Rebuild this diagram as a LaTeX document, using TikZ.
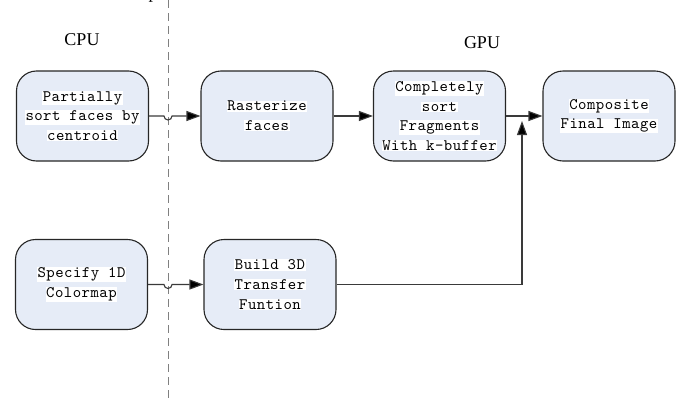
\documentclass[tikz,border=0pt]{standalone}
\usepackage{fontspec}
\setmainfont{Liberation Serif}
\newfontfamily\boxfont{lmmono10-regular.otf}[LetterSpace=3]
\usetikzlibrary{arrows.meta}
\definecolor{boxfill}{HTML}{E6ECF7}
\definecolor{lncol}{HTML}{3A3A3A}
\newcommand{\hl}[1]{{\setlength{\fboxsep}{0.6pt}\colorbox{white}{#1}}}
\tikzset{
  stage/.style={draw=black!85, line width=1.1pt, fill=boxfill, rounded corners=20pt,
    minimum width=132pt, minimum height=90pt, align=center, inner sep=0pt,
    font=\boxfont\fontsize{16}{19.7}\selectfont},
  conn/.style={draw=lncol, line width=1.1pt, -{Triangle[length=14pt,width=10pt,fill=black]}},
  lbl/.style={font=\fontsize{18}{20}\selectfont, inner sep=0pt}
}
\begin{document}
\begin{tikzpicture}[x=1pt,y=-1pt]
\useasboundingbox (0,0) rectangle (677,399);
% divider
\coordinate (dtop) at (168,0);
\coordinate (dbot) at (168,399);
\draw[gray, line width=1pt, dash pattern=on 8pt off 5pt] (dtop) -- (dbot);
% cut-off title glyph (as in the reference)
\node[lbl, anchor=base] (ttl) at (153,-2) {p};
% labels
\node[lbl] (cpu) at (82,40) {CPU};
\node[lbl] (gpu) at (482,43) {GPU};
% boxes
\node[stage] (b1) at (82.5,116) {\hl{Partially}\\\hl{sort faces by}\\\hl{centroid}};
\node[stage] (b2) at (267,116) {\hl{Rasterize}\\\hl{faces}};
\node[stage] (b3) at (439.5,116) {\hl{Completely}\\\hl{sort}\\\hl{Fragments}\\\hl{With k-buffer}};
\node[stage] (b4) at (609,116) {\hl{Composite}\\\hl{Final Image}};
\node[stage] (b5) at (81.5,284.5) {\hl{Specify 1D}\\\hl{Colormap}};
\node[stage] (b6) at (270,284.5) {\hl{Build 3D}\\\hl{Transfer}\\\hl{Funtion}};
% connectors with hop over the divider
\draw[conn] (b1.east) -- (164,116) arc[start angle=180,end angle=0,radius=4] -- (b2.west);
\draw[conn] (b5.east) -- (164,284.5) arc[start angle=180,end angle=0,radius=4] -- (b6.west);
\draw[conn] (b2.east) -- (b3.west);
\draw[conn] (b3.east) -- (b4.west);
\coordinate (jn) at (522,284.5);
\coordinate (jt) at (522,121);
\draw[conn] (b6.east) -- (jn) -- (jt);
\end{tikzpicture}
\end{document}
